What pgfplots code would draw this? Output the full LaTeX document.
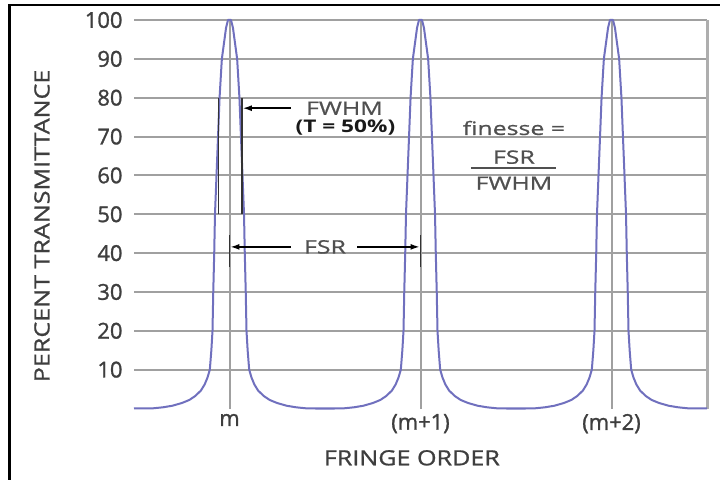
\documentclass[border=0pt]{standalone}
\usepackage{pgfplots}
\pgfplotsset{compat=1.18}
\usetikzlibrary{arrows.meta}
\usepackage{fontspec}
\setmainfont{Open Sans}
\newfontfamily\tickfont{Open Sans}[FakeBold=1.2]
\newfontfamily\labfont{Open Sans}[FakeStretch=1.2,FakeBold=1]
\newfontfamily\annfont{Open Sans}[FakeStretch=1.35,FakeBold=0.8]
\newfontfamily\annbfont{Open Sans Bold}[FakeStretch=1.3]
\definecolor{curve}{RGB}{112,112,190}
\definecolor{gridc}{RGB}{160,160,160}
\definecolor{txt}{RGB}{62,62,62}
\definecolor{anntxt}{RGB}{80,80,80}
\begin{document}
\begin{tikzpicture}
\useasboundingbox (0,0) rectangle (720bp,480bp);
\fill[white] (0,0) rectangle (720bp,480bp);
\draw[black,line width=2.5bp] (9.5bp,0) -- (9.5bp,475bp) -- (720bp,475bp);
\begin{axis}[
  at={(134bp,71.5bp)}, anchor=south west,
  scale only axis, width=573bp, height=388.5bp,
  xmin=-0.5, xmax=2.5, ymin=0, ymax=100,
  clip=false,
  axis line style={draw=none},
  major tick length=0pt,
  ytick={10,20,...,100},
  xtick={0,1,2},
  xticklabels={m,(m+1),(m+2)},
  extra x ticks={2.5},
  extra x tick labels={},
  extra x tick style={grid=major, major grid style={gridc!85!white, line width=3bp}},
  ymajorgrids, xmajorgrids,
  major grid style={gridc, line width=2bp},
  /pgf/number format/assume math mode=true,
  tick label style={font=\fontsize{22}{24}\selectfont\tickfont, text=txt},
  yticklabel style={xshift=-8bp},
  xticklabel style={yshift=-2bp},
  xlabel={\labfont FRINGE ORDER},
  ylabel={\labfont PERCENT TRANSMITTANCE},
  label style={font=\fontsize{21}{24}\selectfont, text=txt},
  xlabel style={at={(axis description cs:0.485,-0.127)}, anchor=center},
  ylabel style={at={(axis description cs:-0.1606,0.47)}, anchor=center, rotate=0},
]
\addplot[curve, line width=2bp, line join=round] coordinates {
(-0.5,0) (-0.4,0.05) (-0.35,0.3) (-0.3,0.7) (-0.25,1.4) (-0.21,2.2) (-0.18,3.2) (-0.15,4.6) (-0.13,6.2) (-0.115,8) (-0.103,10) (-0.095,15) (-0.089,20) (-0.085,30) (-0.08,40) (-0.076,50) (-0.068,60) (-0.06,70) (-0.052,80) (-0.04,90) (-0.018,98) (-0.008,100) (0.008,100) (0.018,98) (0.04,90) (0.052,80) (0.06,70) (0.068,60) (0.076,50) (0.08,40) (0.085,30) (0.089,20) (0.095,15) (0.103,10) (0.115,8) (0.13,6.2) (0.15,4.6) (0.18,3.2) (0.21,2.2) (0.25,1.4) (0.3,0.7) (0.35,0.3) (0.4,0.05) (0.45,0)
(0.55,0) (0.6,0.05) (0.65,0.3) (0.7,0.7) (0.75,1.4) (0.79,2.2) (0.82,3.2) (0.85,4.6) (0.87,6.2) (0.885,8) (0.897,10) (0.905,15) (0.911,20) (0.915,30) (0.92,40) (0.924,50) (0.932,60) (0.94,70) (0.948,80) (0.96,90) (0.982,98) (0.992,100) (1.008,100) (1.018,98) (1.04,90) (1.052,80) (1.06,70) (1.068,60) (1.076,50) (1.08,40) (1.085,30) (1.089,20) (1.095,15) (1.103,10) (1.115,8) (1.13,6.2) (1.15,4.6) (1.18,3.2) (1.21,2.2) (1.25,1.4) (1.3,0.7) (1.35,0.3) (1.4,0.05) (1.45,0)
(1.55,0) (1.6,0.05) (1.65,0.3) (1.7,0.7) (1.75,1.4) (1.79,2.2) (1.82,3.2) (1.85,4.6) (1.87,6.2) (1.885,8) (1.897,10) (1.905,15) (1.911,20) (1.915,30) (1.92,40) (1.924,50) (1.932,60) (1.94,70) (1.948,80) (1.96,90) (1.982,98) (1.992,100) (2.008,100) (2.018,98) (2.04,90) (2.052,80) (2.06,70) (2.068,60) (2.076,50) (2.08,40) (2.085,30) (2.089,20) (2.095,15) (2.103,10) (2.115,8) (2.13,6.2) (2.15,4.6) (2.18,3.2) (2.21,2.2) (2.25,1.4) (2.3,0.7) (2.35,0.3) (2.4,0.05) (2.5,0)
};
% FWHM markers
\addplot[black!80, line width=1.6bp] coordinates {(-0.058,50) (-0.058,80)};
\addplot[black!80, line width=1.6bp] coordinates {(0.065,50) (0.065,80)};
\draw[black, line width=1.4bp, -{Latex[length=9bp,width=6bp]}] (axis cs:0.32,77.3) -- (axis cs:0.07,77.3);
\node[anchor=west, inner sep=0pt, text=anntxt, font=\fontsize{18.5}{20}\selectfont\annfont] at (axis cs:0.40,77.3) {FWHM};
\node[anchor=center, inner sep=0pt, text=black!90, font=\fontsize{17.5}{20}\selectfont\annbfont] at (axis cs:0.607,72.2) {(T = 50\%)};
% FSR markers
\addplot[black!80, line width=1.6bp] coordinates {(0,36.4) (0,44.7)};
\addplot[black!80, line width=1.6bp] coordinates {(1,36.4) (1,44.7)};
\draw[black, line width=1.4bp, -{Latex[length=9bp,width=6bp]}] (axis cs:0.32,41.6) -- (axis cs:0.005,41.6);
\draw[black, line width=1.4bp, -{Latex[length=9bp,width=6bp]}] (axis cs:0.67,41.6) -- (axis cs:0.995,41.6);
\node[anchor=center, inner sep=0pt, text=anntxt, font=\fontsize{18.5}{20}\selectfont\annfont] at (axis cs:0.50,41.6) {FSR};
% finesse
\node[anchor=center, inner sep=0pt, text=anntxt, font=\fontsize{18.5}{20}\selectfont\annfont] at (axis cs:1.489,72.2) {finesse =};
\node[anchor=center, inner sep=0pt, text=anntxt, font=\fontsize{18.5}{20}\selectfont\annfont] at (axis cs:1.489,64.7) {FSR};
\draw[anntxt, line width=1.5bp] (axis cs:1.264,61.9) -- (axis cs:1.71,61.9);
\node[anchor=center, inner sep=0pt, text=anntxt, font=\fontsize{18.5}{20}\selectfont\annfont] at (axis cs:1.489,58.0) {FWHM};
\end{axis}
\end{tikzpicture}
\end{document}
